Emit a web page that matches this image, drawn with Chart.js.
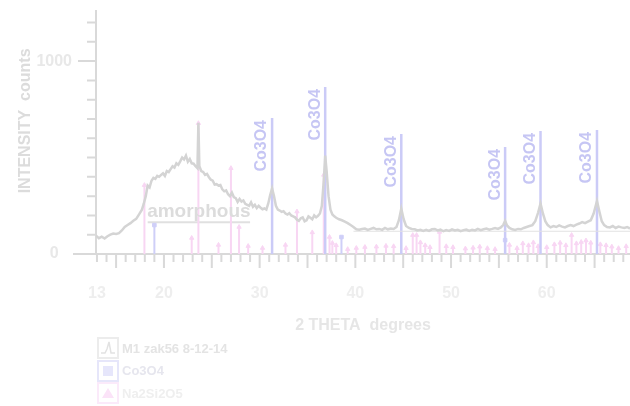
<!DOCTYPE html>
<html>
<head>
<meta charset="utf-8">
<script src="https://cdn.jsdelivr.net/npm/chart.js@4.4.1/dist/chart.umd.min.js"></script>
<style>
  body { margin: 0; background: #fff; }
  #wrap { position: relative; width: 630px; height: 406px; }
  #legend { position: absolute; left: 97px; top: 337px; font: bold 13px "Liberation Sans", Arial, sans-serif; }
  .row { display: flex; align-items: center; height: 22.5px; }
  .box { width: 18px; height: 18px; border: 2px solid; margin-right: 3px; display: flex; align-items: center; justify-content: center; }
</style>
</head>
<body>
<div id="wrap">
  <canvas id="xrd" width="630" height="406"></canvas>
  <div id="legend">
    <div class="row"><span class="box" style="border-color:#ececec"><svg width="16" height="16"><polyline points="1,13 5,13 7,9 9,2 11,13 15,13" fill="none" stroke="#e2e2e2" stroke-width="1.5"/></svg></span><span style="color:#e4e4e4">M1 zak56 8-12-14</span></div>
    <div class="row"><span class="box" style="border-color:#e6e6fa"><span style="width:10px;height:10px;background:#e6e6fb"></span></span><span style="color:#e6e6ee">Co3O4</span></div>
    <div class="row"><span class="box" style="border-color:#fbeafa"><svg width="14" height="14"><polygon points="7,2 13,12 1,12" fill="#fbe3f8"/></svg></span><span style="color:#efefef">Na2Si2O5</span></div>
  </div>
</div>
<script>
// measured pattern (2 theta in degrees, intensity in counts)
const twoTheta = [12.9,13.2,13.5,13.8,14.1,14.4,14.7,15.0,15.3,15.6,15.9,16.2,16.5,16.8,17.1,17.4,17.7,17.9,18.1,18.3,18.5,18.7,18.9,19.1,19.3,19.5,19.7,19.9,20.1,20.3,20.5,20.7,20.9,21.1,21.3,21.5,21.7,21.9,22.1,22.3,22.5,22.7,22.9,23.1,23.3,23.5,23.6,23.7,23.9,24.1,24.3,24.5,24.7,24.9,25.1,25.3,25.5,25.7,25.9,26.1,26.3,26.5,26.7,26.9,27.1,27.3,27.5,27.7,27.9,28.1,28.3,28.5,28.7,28.9,29.1,29.3,29.5,29.7,29.9,30.1,30.3,30.5,30.7,30.9,31.1,31.3,31.5,31.7,31.9,32.1,32.3,32.5,32.7,32.9,33.1,33.3,33.5,33.7,33.9,34.1,34.3,34.5,34.7,34.9,35.1,35.3,35.5,35.7,35.9,36.1,36.3,36.5,36.7,36.85,37.0,37.2,37.4,37.6,37.8,38.0,38.3,38.6,38.9,39.2,39.5,39.8,40.1,40.4,40.7,41.0,41.3,41.6,41.9,42.2,42.5,42.8,43.1,43.4,43.7,44.0,44.3,44.55,44.8,45.05,45.3,45.6,45.9,46.2,46.5,46.8,47.1,47.4,47.7,48.0,48.3,48.6,48.9,49.2,49.5,49.8,50.1,50.4,50.7,51.0,51.3,51.6,51.9,52.2,52.5,52.8,53.1,53.4,53.7,54.0,54.3,54.6,54.9,55.2,55.45,55.65,55.85,56.1,56.4,56.7,57.0,57.3,57.6,57.9,58.2,58.5,58.8,59.1,59.35,59.6,59.85,60.1,60.4,60.7,61.0,61.3,61.6,61.9,62.2,62.5,62.8,63.1,63.4,63.7,64.0,64.3,64.6,64.9,65.25,65.5,65.75,66.0,66.3,66.6,66.9,67.2,67.5,67.8,68.1,68.4,68.7];
const counts = [95,82,90,80,92,100,106,104,108,122,140,150,160,172,182,205,230,262,300,355,345,380,395,390,405,400,410,418,405,430,425,440,455,448,470,462,480,500,490,510,478,492,470,468,455,445,680,455,430,425,410,415,398,385,380,360,362,355,358,335,325,330,310,300,318,295,290,270,285,272,278,260,255,250,268,245,255,238,250,240,232,236,230,262,305,340,300,250,230,225,218,222,210,205,212,200,195,190,178,172,185,190,170,175,195,188,180,200,190,198,210,250,380,510,430,300,230,205,195,188,180,175,168,160,150,140,128,126,130,132,125,130,135,128,130,125,135,128,132,130,140,175,235,180,145,135,130,128,122,125,120,125,120,128,130,122,126,118,124,120,128,122,125,118,124,127,120,126,122,130,124,128,132,126,130,135,130,138,150,172,148,135,128,125,130,128,135,140,145,150,170,215,262,210,170,150,138,145,140,148,142,138,145,150,145,152,158,165,160,168,175,210,275,220,170,150,140,138,145,135,142,138,135,140,132];

// background level under the pattern
const bgTheta = [39.8, 68.7];
const bgCounts = [118, 118];

// Co3O4 peak labels
const co3o4LabelTheta = [31.3, 36.85, 44.8, 55.65, 59.35, 65.25];
const co3o4LabelTop = [705, 866, 622, 555, 638, 643];
// Co3O4 reference sticks
const co3o4Theta = [19.0, 38.55, 55.65];
const co3o4Counts = [150, 88, 72];

// Na2Si2O5 reference sticks
const naTheta = [17.96,22.9,23.6,25.7,27.0,27.85,28.8,30.3,32.7,33.9,35.5,36.7,37.3,37.6,38.0,39.2,40.1,41.0,42.2,43.2,44.0,45.3,46.0,46.4,46.8,47.3,47.8,48.8,49.5,50.2,51.5,52.3,53.0,53.8,54.6,56.1,56.9,57.5,58.1,58.6,59.1,60.0,60.8,61.4,62.0,62.6,63.1,63.6,64.1,64.6,65.6,66.2,66.8,67.5,68.3];
const naCounts = [357,83,678,47,445,140,41,31,47,220,112,410,88,57,45,25,31,36,38,42,40,30,98,98,60,45,35,114,40,35,28,32,38,30,25,47,30,55,45,60,40,35,50,58,45,98,55,62,70,58,50,45,38,30,40];

// "amorphous" bracket
const amorphTheta = [18.3, 29.0];
const amorphLevel = 165;

const xTickLabels = [13, 20, 30, 40, 50, 60];
const yTickLabels = [0, 1000];

const FONT = '"Liberation Sans", Arial, sans-serif';

function pairs(xs, ys) {
  return xs.map((v, i) => ({x: v, y: ys[i]}));
}
// each stick is base point, top point and a gap
function sticks(xs, ys) {
  const out = [];
  xs.forEach((v, i) => { out.push({x: v, y: 0}, {x: v, y: ys[i]}, {x: v, y: null}); });
  return out;
}
const topOnly = r => ctx => (ctx.index % 3 === 1 ? r : 0);

// axes, tick marks and annotation text
const decor = {
  id: 'decor',
  beforeDatasetsDraw(chart) {
    const {ctx, scales: {x, y}} = chart;
    const y0 = y.getPixelForValue(0);
    ctx.save();
    ctx.strokeStyle = '#d9d9d9';
    ctx.lineWidth = 2;
    ctx.beginPath();
    ctx.moveTo(x.left - 23, y0); ctx.lineTo(x.right, y0);
    ctx.moveTo(x.left, y.top); ctx.lineTo(x.left, y0);
    for (let t = 13; t <= 68; t++) {
      const px = x.getPixelForValue(t);
      ctx.moveTo(px, y0); ctx.lineTo(px, y0 + (t % 5 === 0 ? 14 : 8));
    }
    for (let v = 100; v <= 1200; v += 100) {
      const py = y.getPixelForValue(v);
      ctx.moveTo(x.left, py); ctx.lineTo(x.left - (v === 1000 ? 18 : 9), py);
    }
    ctx.stroke();
    ctx.restore();
  },
  afterDraw(chart) {
    const {ctx, scales: {x, y}} = chart;
    ctx.save();
    // y axis title, sits a little above the middle of the axis
    ctx.fillStyle = '#dcdcdc';
    ctx.font = 'bold 16px ' + FONT;
    ctx.textAlign = 'center';
    ctx.textBaseline = 'middle';
    ctx.translate(26, y.getPixelForValue(690));
    ctx.rotate(-Math.PI / 2);
    ctx.fillText('INTENSITY  counts', 0, 0);
    ctx.restore();

    ctx.save();
    ctx.fillStyle = '#c6c6f4';
    ctx.font = 'bold 16px ' + FONT;
    ctx.textAlign = 'right';
    ctx.textBaseline = 'middle';
    co3o4LabelTheta.forEach((t, i) => {
      ctx.save();
      ctx.translate(x.getPixelForValue(t) - 10, y.getPixelForValue(co3o4LabelTop[i]));
      ctx.rotate(-Math.PI / 2);
      ctx.fillText('Co3O4', -2, 0);
      ctx.restore();
    });
    ctx.fillStyle = '#dcdcdc';
    ctx.font = 'bold 19px ' + FONT;
    ctx.textAlign = 'center';
    ctx.textBaseline = 'alphabetic';
    ctx.fillText('amorphous', x.getPixelForValue((amorphTheta[0] + amorphTheta[1]) / 2), y.getPixelForValue(amorphLevel) - 5);
    ctx.restore();
  }
};

new Chart(document.getElementById('xrd'), {
  type: 'scatter',
  data: {
    datasets: [
      {
        label: 'M1 zak56 8-12-14',
        data: pairs(twoTheta, counts),
        showLine: true, borderColor: '#d4d4d4', borderWidth: 2.5, pointRadius: 0, order: 0
      },
      {
        label: 'background',
        data: pairs(bgTheta, bgCounts),
        showLine: true, borderColor: '#e2e2e2', borderWidth: 1.2, pointRadius: 0, order: 1
      },
      {
        label: 'Co3O4 labels',
        data: sticks(co3o4LabelTheta, co3o4LabelTop),
        showLine: true, spanGaps: false, borderColor: '#cbcbf7', borderWidth: 2.5, pointRadius: 0, order: 2
      },
      {
        label: 'Co3O4',
        data: sticks(co3o4Theta, co3o4Counts),
        showLine: true, spanGaps: false, borderColor: '#cfcff8', backgroundColor: '#cfcff8', borderWidth: 2,
        pointStyle: 'rect', pointRadius: topOnly(2.5), pointBorderWidth: 1, order: 3
      },
      {
        label: 'Na2Si2O5',
        data: sticks(naTheta, naCounts),
        showLine: true, spanGaps: false, borderColor: '#f8d6f3', backgroundColor: '#f8d6f3', borderWidth: 2,
        pointStyle: 'triangle', pointRadius: topOnly(2.5), pointBorderWidth: 1, order: 4
      },
      {
        label: 'amorphous',
        data: pairs(amorphTheta, [amorphLevel, amorphLevel]),
        showLine: true, borderColor: '#e0e0e0', borderWidth: 2, pointRadius: 0, order: 5
      }
    ]
  },
  options: {
    responsive: false,
    animation: false,
    layout: { padding: { left: 17, right: 0, top: 10, bottom: 71 } },
    plugins: { legend: { display: false }, tooltip: { enabled: false } },
    scales: {
      x: {
        type: 'linear', min: 12.9, max: 68.7,
        afterFit: s => { s.height = 81; s.paddingLeft = 0; s.paddingRight = 0; },
        afterBuildTicks: s => { s.ticks = xTickLabels.map(v => ({value: v})); },
        grid: { display: false, drawTicks: false },
        border: { display: false },
        ticks: { padding: 30, color: '#eeeeee', font: { family: FONT, size: 16, weight: 'bold' }, maxRotation: 0, autoSkip: false },
        title: { display: true, text: '2 THETA  degrees', color: '#e6e6e6', padding: 0, font: { family: FONT, size: 16, weight: 'bold' } }
      },
      y: {
        min: 0, max: 1265,
        afterFit: s => { s.width = 79; s.paddingTop = 0; s.paddingBottom = 0; },
        afterBuildTicks: s => { s.ticks = yTickLabels.map(v => ({value: v})); },
        grid: { display: false, drawTicks: false },
        border: { display: false },
        ticks: { padding: 24, crossAlign: 'center', color: '#e8e8e8', font: { family: FONT, size: 16, weight: 'bold' },
                 callback: v => String(v) },
        title: { display: false }
      }
    }
  },
  plugins: [decor]
});
</script>
</body>
</html>
